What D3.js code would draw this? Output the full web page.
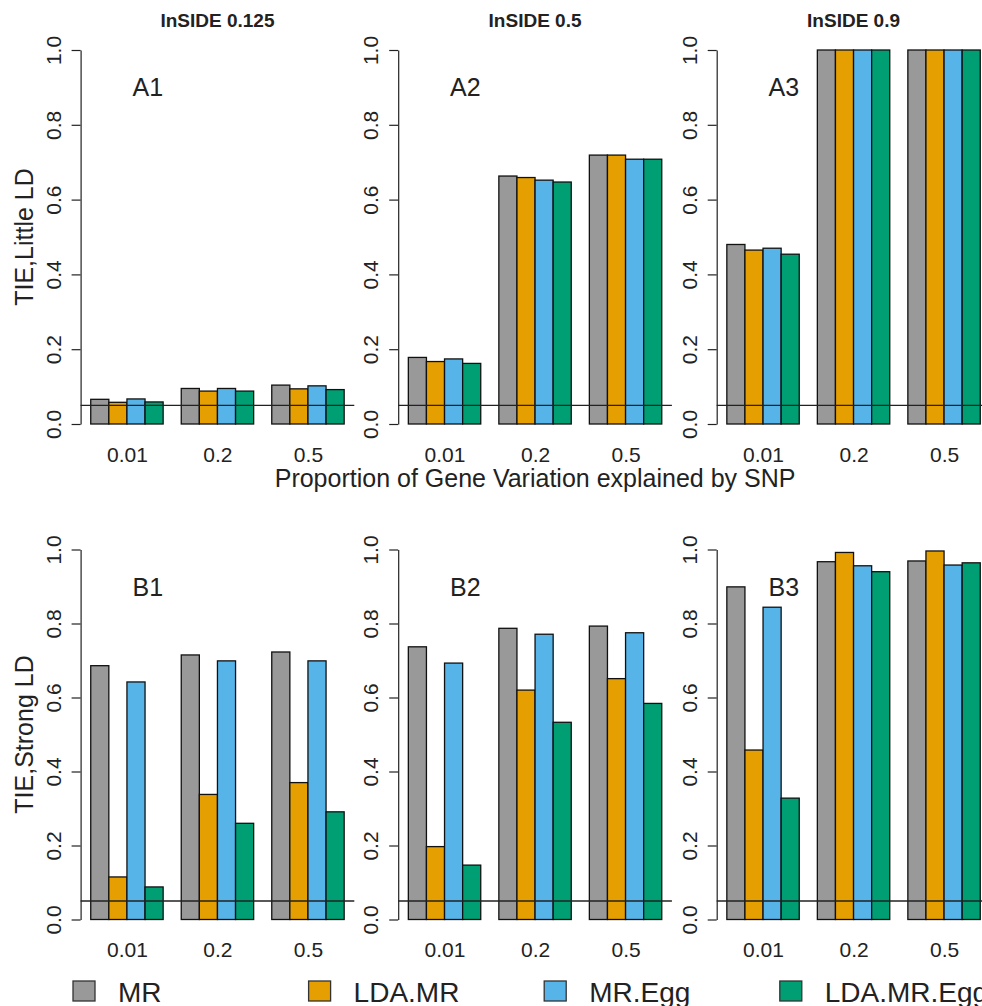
<!DOCTYPE html>
<meta charset="utf-8">
<style>
body { margin: 0; background: #fff; }
svg { font-family: "Liberation Sans", Arial, sans-serif; }
.bar { stroke: #111; stroke-width: 1.3px; }
.axis path, .axis line { stroke: #222; stroke-width: 1.2px; }
.axis text { font-size: 21px; fill: #222; font-family: "Liberation Sans", Arial, sans-serif; }
.xaxis path { display: none; }
.refline { stroke: #222; stroke-width: 1.3px; }
</style>
<svg width="982" height="1006"></svg>
<script src="https://cdnjs.cloudflare.com/ajax/libs/d3/7.8.5/d3.min.js"></script>
<script>

// categories and series
var categories = ["0.01", "0.2", "0.5"];
var methods = ["MR", "LDA.MR", "MR.Egg", "LDA.MR.Egg"];
var colors = ["#999999", "#E69F00", "#56B4E9", "#009E73"];
var insideTitles = ["InSIDE 0.125", "InSIDE 0.5", "InSIDE 0.9"];
var rowTitles = ["TIE,Little LD", "TIE,Strong LD"];
var panelLabels = [["A1", "A2", "A3"], ["B1", "B2", "B3"]];
var yTicks = [0, 0.2, 0.4, 0.6, 0.8, 1.0];
var alpha = 0.05;

// values: one row per category, one column per method
var a1 = [[0.066, 0.058, 0.067, 0.059], [0.095, 0.088, 0.095, 0.088], [0.104, 0.094, 0.102, 0.092]];
var a2 = [[0.178, 0.167, 0.174, 0.162], [0.663, 0.659, 0.652, 0.647], [0.719, 0.719, 0.708, 0.708]];
var a3 = [[0.480, 0.465, 0.470, 0.454], [1.0, 1.0, 1.0, 1.0], [1.0, 1.0, 1.0, 1.0]];
var b1 = [[0.686, 0.115, 0.642, 0.088], [0.715, 0.338, 0.699, 0.260], [0.723, 0.370, 0.699, 0.291]];
var b2 = [[0.737, 0.197, 0.693, 0.147], [0.787, 0.620, 0.771, 0.533], [0.793, 0.651, 0.775, 0.584]];
var b3 = [[0.899, 0.458, 0.844, 0.328], [0.967, 0.992, 0.956, 0.940], [0.969, 0.996, 0.958, 0.964]];

var rows = [[a1, a2, a3], [b1, b2, b3]];

var svg = d3.select("svg");

var panelW = 273.7,
    colLeft = [80.6, 398.2, 716.7],
    rowTop = [50, 549.5],
    panelH = [374, 370];

// barplot units: bar i of group g starts at 1 + 5*g + i, width 1
var x = d3.scaleLinear().domain([0.44, 15.56]).range([0, panelW]);

rows.forEach(function(rowData, r) {
  var y = d3.scaleLinear().domain([0, 1]).range([panelH[r], 0]);

  rowData.forEach(function(data, c) {
    var g = svg.append("g")
        .attr("transform", "translate(" + colLeft[c] + "," + rowTop[r] + ")");

    var bars = [];
    data.forEach(function(vals, gi) {
      vals.forEach(function(v, mi) {
        bars.push({start: 1 + 5 * gi + mi, value: v, method: mi});
      });
    });

    g.selectAll(".bar")
      .data(bars)
      .enter().append("rect")
        .attr("class", "bar")
        .attr("x", function(d) { return x(d.start); })
        .attr("width", function(d) { return x(d.start + 1) - x(d.start); })
        .attr("y", function(d) { return y(d.value); })
        .attr("height", function(d) { return y(0) - y(d.value); })
        .attr("fill", function(d) { return colors[d.method]; });

    g.append("line")
        .attr("class", "refline")
        .attr("x1", 0)
        .attr("x2", panelW)
        .attr("y1", y(alpha))
        .attr("y2", y(alpha));

    var yAxis = g.append("g")
        .attr("class", "axis")
        .call(d3.axisLeft(y).tickValues(yTicks).tickFormat(d3.format(".1f")).tickSize(9).tickSizeOuter(0));
    yAxis.selectAll("text")
        .attr("x", 0)
        .attr("dy", null)
        .attr("text-anchor", "middle")
        .attr("transform", "translate(-20,0) rotate(-90)");

    var xAxis = g.append("g")
        .attr("class", "axis xaxis")
        .attr("transform", "translate(0," + panelH[r] + ")")
        .call(d3.axisBottom(x).tickValues([3, 8, 13])
          .tickFormat(function(d, i) { return categories[i]; })
          .tickSize(0));
    xAxis.selectAll("text")
        .attr("y", 37.5)
        .attr("dy", null);

    g.append("text")
        .attr("x", x(4.15))
        .attr("y", y(0.9))
        .attr("dy", "0.36em")
        .attr("text-anchor", "middle")
        .style("font-size", "25px")
        .attr("fill", "#222")
        .text(panelLabels[r][c]);

    if (r === 0) {
      g.append("text")
          .attr("x", panelW / 2)
          .attr("y", 26.7 - rowTop[0])
          .attr("text-anchor", "middle")
          .style("font-size", "19px")
          .style("font-weight", "bold")
          .attr("fill", "#222")
          .text(insideTitles[c]);
    }
  });

  svg.append("text")
      .attr("transform", "translate(33," + (rowTop[r] + panelH[r] / 2) + ") rotate(-90)")
      .attr("text-anchor", "middle")
      .style("font-size", "25px")
      .attr("fill", "#222")
      .text(rowTitles[r]);
});

svg.append("text")
    .attr("x", colLeft[1] + panelW / 2)
    .attr("y", 487)
    .attr("text-anchor", "middle")
    .style("font-size", "25px")
    .attr("fill", "#222")
    .text("Proportion of Gene Variation explained by SNP");

// legend
var legend = svg.selectAll(".legend")
    .data(methods)
  .enter().append("g")
    .attr("class", "legend")
    .attr("transform", function(d, i) { return "translate(" + (73 + i * 235.6) + ",981)"; });

legend.append("rect")
    .attr("width", 22)
    .attr("height", 20)
    .attr("fill", function(d, i) { return colors[i]; })
    .attr("stroke", "#333")
    .attr("stroke-width", 1.3);

legend.append("text")
    .attr("x", 45)
    .attr("y", 20.5)
    .style("font-size", "28px")
    .attr("fill", "#222")
    .text(function(d) { return d; });

</script>
